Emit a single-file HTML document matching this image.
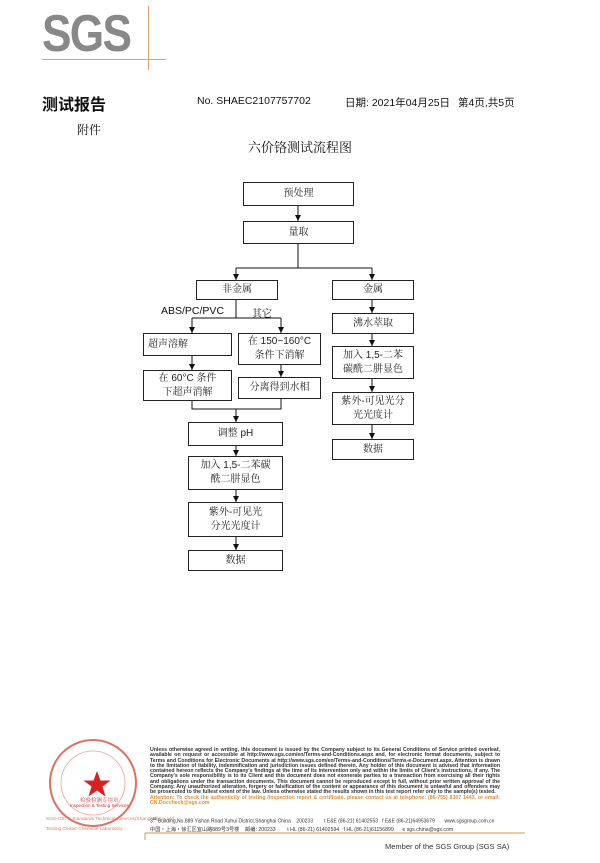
<!DOCTYPE html>
<html><head><meta charset="utf-8"><style>
body{margin:0;width:600px;height:863px;background:#fff;position:relative;overflow:hidden;font-family:"Liberation Sans","Noto Serif CJK SC",serif;color:#111}
.a{position:absolute;white-space:nowrap}
.b{position:absolute;border:1px solid #222;box-sizing:border-box;display:flex;align-items:center;justify-content:center;text-align:center;font-size:10px;line-height:14px;color:#222}
.s{font-family:"Liberation Sans","Noto Sans CJK SC",sans-serif}
.ft{position:absolute;left:150px;top:748px;width:350px;font-size:5.2px;line-height:5.3px;font-weight:bold;color:#333;text-align:justify}
</style></head><body>
<div class="a s" style="left:42px;top:4px;font-size:52px;font-weight:bold;color:#888;letter-spacing:-2px;transform:scaleX(0.85);transform-origin:left">SGS</div>
<div class="a" style="left:42px;top:59px;width:124px;height:1px;background:#e0a070"></div>
<div class="a" style="left:148px;top:6px;width:1px;height:64px;background:#e0a070"></div>
<div class="a s" style="left:42px;top:91px;font-size:16px;font-weight:bold">测试报告</div>
<div class="a s" style="left:197px;top:95px;font-size:10.5px">No. SHAEC2107757702</div>
<div class="a s" style="left:345px;top:95px;font-size:10.5px">日期: 2021年04月25日</div>
<div class="a s" style="left:458px;top:95px;font-size:10.5px">第4页,共5页</div>
<div class="a" style="left:77px;top:121px;font-size:12px">附件</div>
<div class="a" style="left:0;width:600px;text-align:center;top:137px;font-size:13px">六价铬测试流程图</div>

<div class="b" style="left:243px;top:182px;width:111px;height:24px">预处理</div>
<div class="b" style="left:243px;top:221px;width:111px;height:23px">量取</div>
<div class="b" style="left:196px;top:280px;width:82px;height:20px">非金属</div>
<div class="b" style="left:332px;top:280px;width:82px;height:20px">金属</div>
<div class="a s" style="left:161px;top:305px;font-size:10.5px">ABS/PC/PVC</div>
<div class="a" style="left:252px;top:305px;font-size:10px">其它</div>
<div class="b" style="left:143px;top:333px;width:89px;height:23px;justify-content:flex-start;padding-left:4px">超声溶解</div>
<div class="b" style="left:238px;top:333px;width:83px;height:32px">在 150~160°C<br>条件下消解</div>
<div class="b" style="left:143px;top:370px;width:89px;height:31px">在 60°C 条件<br>下超声消解</div>
<div class="b" style="left:238px;top:377px;width:83px;height:22px">分离得到水相</div>
<div class="b" style="left:188px;top:422px;width:95px;height:24px">调整 pH</div>
<div class="b" style="left:188px;top:456px;width:95px;height:34px">加入 1,5-二苯碳<br>酰二肼显色</div>
<div class="b" style="left:188px;top:502px;width:95px;height:35px">紫外-可见光<br>分光光度计</div>
<div class="b" style="left:188px;top:550px;width:95px;height:21px">数据</div>
<div class="b" style="left:332px;top:313px;width:82px;height:21px">沸水萃取</div>
<div class="b" style="left:332px;top:346px;width:82px;height:33px">加入 1,5-二苯<br>碳酰二肼显色</div>
<div class="b" style="left:332px;top:392px;width:82px;height:33px">紫外-可见光分<br>光光度计</div>
<div class="b" style="left:332px;top:439px;width:82px;height:21px">数据</div>

<svg class="a" style="left:0;top:0" width="600" height="863">
<g stroke="#111" stroke-width="1" fill="none">
<path d="M298 206V221"/><path d="M298 244V268M236 268H372M236 268V280M372 268V280"/>
<path d="M236 300V318M192 318H281M192 318V333M281 318V333"/>
<path d="M192 356V370M281 365V377"/>
<path d="M192 401V409H281V399M236 409V422"/>
<path d="M236 446V456M236 490V502M236 537V550"/>
<path d="M372 300V313M372 334V346M372 379V392M372 425V439"/>
</g>
<g fill="#111">
<path d="M295 215h6l-3 6z"/><path d="M233 274h6l-3 6zM369 274h6l-3 6z"/>
<path d="M189 327h6l-3 6zM278 327h6l-3 6z"/><path d="M189 364h6l-3 6zM278 371h6l-3 6z"/>
<path d="M233 416h6l-3 6zM233 450h6l-3 6zM233 496h6l-3 6zM233 544h6l-3 6z"/>
<path d="M369 307h6l-3 6zM369 340h6l-3 6zM369 386h6l-3 6zM369 433h6l-3 6z"/>
</g>
<circle cx="93" cy="783" r="43" fill="none" stroke="#e07060" stroke-width="2"/>
<circle cx="93" cy="783" r="32" fill="none" stroke="#f0a090" stroke-width="0.8"/>
<path d="M97 771l3.5 9.5h10l-8 6 3 10-8.5-6-8.5 6 3-10-8-6h10z" fill="#d92020"/>
<line x1="145" y1="833" x2="525" y2="833" stroke="#e09050" stroke-width="1"/>
<line x1="145" y1="833" x2="145" y2="840" stroke="#e09050" stroke-width="1"/>
</svg>
<div class="a" style="left:80px;top:796px;font-size:5.5px;color:#d03030">检验检测专用章</div>
<div class="a s" style="left:70px;top:803px;font-size:4.5px;color:#d03030">Inspection &amp; Testing Services</div>
<div class="a s" style="left:46px;top:817px;font-size:4.8px;color:#e08060">SGS-CSTC Standards Technical Services(Shanghai)Co.,Ltd.</div>
<div class="a s" style="left:46px;top:827px;font-size:4.8px;color:#e08060">Testing Center Chemical Laboratory</div>
<div class="ft s">Unless otherwise agreed in writing, this document is issued by the Company subject to its General Conditions of Service printed overleaf, available on request or accessible at http://www.sgs.com/en/Terms-and-Conditions.aspx and, for electronic format documents, subject to Terms and Conditions for Electronic Documents at http://www.sgs.com/en/Terms-and-Conditions/Terms-e-Document.aspx. Attention is drawn to the limitation of liability, indemnification and jurisdiction issues defined therein. Any holder of this document is advised that information contained hereon reflects the Company's findings at the time of its intervention only and within the limits of Client's instructions, if any. The Company's sole responsibility is to its Client and this document does not exonerate parties to a transaction from exercising all their rights and obligations under the transaction documents. This document cannot be reproduced except in full, without prior written approval of the Company. Any unauthorized alteration, forgery or falsification of the content or appearance of this document is unlawful and offenders may be prosecuted to the fullest extent of the law. Unless otherwise stated the results shown in this test report refer only to the sample(s) tested.<br><span style="color:#e09030">Attention: To check the authenticity of testing /inspection report &amp; certificate, please contact us at telephone: (86-755) 8307 1443, or email: CN.Doccheck@sgs.com</span></div>
<div class="a s" style="left:150px;top:816px;font-size:5px;color:#333">3<sup>rd</sup> Building,No.889 Yishan Road Xuhui District,Shanghai China &nbsp;&nbsp; 200233 &nbsp;&nbsp;&nbsp;&nbsp;&nbsp;&nbsp; t E&amp;E (86-21) 61402553 &nbsp; f E&amp;E (86-21)64953679 &nbsp;&nbsp;&nbsp;&nbsp;&nbsp; www.sgsgroup.com.cn</div>
<div class="a s" style="left:150px;top:826px;font-size:5.2px;color:#333">中国・上海・徐汇区宜山路889号3号楼 &nbsp;&nbsp; 邮编: 200233 &nbsp;&nbsp;&nbsp;&nbsp;&nbsp;&nbsp; t HL (86-21) 61402594 &nbsp; f HL (86-21)61156899 &nbsp;&nbsp;&nbsp;&nbsp; e sgs.china@sgs.com</div>
<div class="a s" style="left:385px;top:842px;font-size:7.5px;color:#333">Member of the SGS Group (SGS SA)</div>
</body></html>
